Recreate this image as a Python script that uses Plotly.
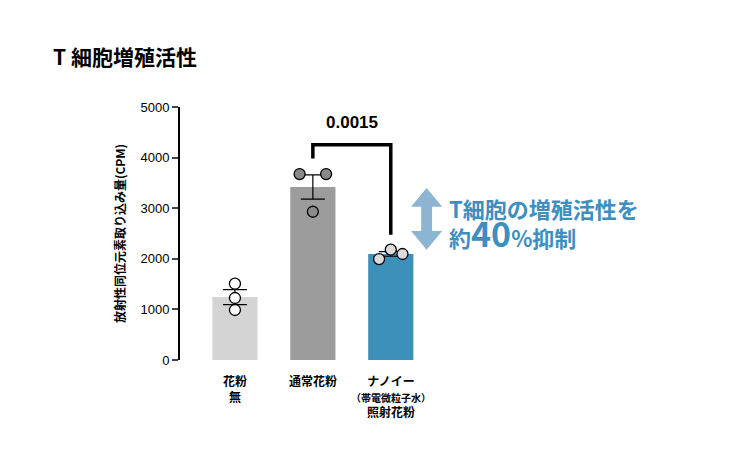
import plotly.graph_objects as go

groups = ["<b>花粉<br>無</b>", "<b>通常花粉</b>",
          "<b>ナノイー<br><span style='font-size:10px'>（帯電微粒子水）</span><br>照射花粉</b>"]
means = [1245, 3420, 2095]
err_hi = [1390, 3660, 2140]
err_lo = [1093, 3180, 2050]
points = [[1508, 1225, 988], [3675, 3675, 2930], [1995, 2180, 2095]]
point_dx = [[0, 0, 0], [-0.17, 0.17, 0], [-0.15, 0, 0.15]]
bar_colors = ["#d4d4d4", "#9c9c9c", "#3d90b9"]
point_colors = ["white", "#8a8a8a", "#dcdcdc"]
p_value = "0.0015"
yticks = [0, 1000, 2000, 3000, 4000, 5000]

fig = go.Figure()
xs = [0, 1, 2]
fig.add_trace(go.Bar(x=xs, y=means, width=0.58, marker_color=bar_colors,
                     marker_line_width=0,
                     error_y=dict(type="data", symmetric=False,
                                  array=[h - m for h, m in zip(err_hi, means)],
                                  arrayminus=[m - l for l, m in zip(err_lo, means)],
                                  color="black", thickness=1.2, width=12)))
for i in xs:
    fig.add_trace(go.Scatter(x=[i + d for d in point_dx[i]], y=points[i], mode="markers",
                             marker=dict(size=11, color=point_colors[i],
                                         line=dict(color="black", width=1.3))))

# significance bracket
fig.add_shape(type="path", path="M 1,3980 L 1,4255 L 2,4255 L 2,2475",
              line=dict(color="black", width=3.5))
fig.add_annotation(x=1.5, y=4255, text="<b>" + p_value + "</b>", showarrow=False, yshift=22,
                   font=dict(size=17, color="black", family="Liberation Sans"))

# double arrow
ax = 2.46
fig.add_shape(type="path",
              path=f"M {ax},3400 L {ax+0.2},3030 L {ax+0.07},3030 L {ax+0.07},2550 "
                   f"L {ax+0.2},2550 L {ax},2180 L {ax-0.2},2550 L {ax-0.07},2550 "
                   f"L {ax-0.07},3030 L {ax-0.2},3030 Z",
              fillcolor="#8db4d1", line_width=0)

for i, g in enumerate(groups):
    fig.add_annotation(x=i, y=0, text=g, showarrow=False, yanchor="top", yshift=-10,
                       font=dict(size=12, color="black"))

fig.update_layout(
    width=750, height=455, paper_bgcolor="white", plot_bgcolor="rgba(0,0,0,0)",
    margin=dict(l=172, r=188, t=99, b=103), showlegend=False,
    font=dict(family="Noto Sans CJK JP", color="black"),
    xaxis=dict(range=[-0.705, 4.3], showticklabels=False, showgrid=False, zeroline=False,
               showline=False, fixedrange=True),
    yaxis=dict(range=[0, 5000], tickvals=yticks, showgrid=False, zeroline=False,
               showline=True, linecolor="black", linewidth=2, ticks="outside",
               ticklen=6, tickwidth=2, automargin=False,
               tickfont=dict(size=13, family="Liberation Sans"),
               title=dict(text="<b>放射性同位元素取り込み量(CPM)</b>", font=dict(size=12), standoff=12)),
)
fig.add_annotation(xref="paper", yref="paper", x=-0.33, y=1.27, xanchor="left",
                   text="<b>T 細胞増殖活性</b>", showarrow=False, font=dict(size=21))
fig.add_annotation(x=2.72, y=2680, xanchor="left", yanchor="middle",
                   text="<b>T細胞の増殖活性を<br>約<span style='font-size:34px'>40</span>%抑制</b>",
                   showarrow=False, align="left",
                   font=dict(size=22, color="#3d8fbf"))

fig.write_html("out.html")
